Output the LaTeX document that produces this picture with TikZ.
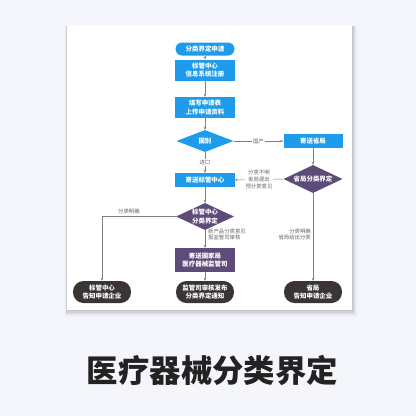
\documentclass[tikz,border=0pt]{standalone}
\usepackage{fontspec}
\newfontfamily\cjk{Noto Sans CJK SC}
\usetikzlibrary{shapes.geometric,arrows.meta}
\definecolor{bgc}{HTML}{F5F6FB}
\definecolor{blu}{HTML}{1E9BEB}
\definecolor{pur}{HTML}{5D4B7A}
\definecolor{drk}{HTML}{3A3434}
\definecolor{lnc}{HTML}{808080}
\definecolor{lbc}{HTML}{666666}
\definecolor{ttc}{HTML}{222222}
\begin{document}
\begin{tikzpicture}[x=1bp,y=-1bp,
  box/.style={draw=none,text=white,font=\cjk\bfseries\fontsize{6.5}{8.4}\selectfont,align=center,inner sep=0pt,minimum width=59bp},
  term/.style={box,rounded corners=6.5bp,minimum height=13bp},
  rbox/.style={box,minimum height=21bp},
  sbox/.style={box,minimum height=14bp},
  dia/.style={box,shape=diamond,aspect=2.1,minimum width=58bp,minimum height=27bp},
  endt/.style={box,fill=drk,rounded corners=10.5bp,minimum height=22bp,minimum width=58bp},
  arr/.style={draw=lnc,line width=0.5pt,-{Stealth[length=3pt,width=2.6pt]}},
  lbl/.style={text=lbc,font=\cjk\fontsize{5.4}{6.8}\selectfont,inner sep=1pt}]
\useasboundingbox (0,0) rectangle (416,416);
\fill[bgc] (0,0) rectangle (416,416);
% card shadow
\foreach \o/\op in {5/0.025,4/0.03,3/0.04,2/0.05,1/0.06}{
  \fill[black,opacity=\op] (67-\o*0.4,26) rectangle (352+\o,310+\o*1.3);
}
\fill[white] (67,26) rectangle (352,310);
% nodes
\node[term,fill=blu] (a) at (205,49) {分类界定申请};
\node[rbox,fill=blu] (b) at (205,70) {标管中心\\信息系统注册};
\node[rbox,fill=blu] (c) at (205,107.5) {填写申请表\\上传申请资料};
\node[dia,fill=blu,minimum width=57bp,minimum height=22bp] (d) at (205,141) {国别};
\node[sbox,fill=blu] (s) at (313,141) {寄送省局};
\node[dia,fill=pur,minimum width=59bp,minimum height=28bp] (t) at (313,179) {省局分类界定};
\node[sbox,fill=blu] (e) at (205,180) {寄送标管中心};
\node[dia,fill=pur] (f) at (205,216.5) {标管中心\\分类界定};
\node[box,fill=pur,minimum height=24bp] (g) at (205,260) {寄送国家局\\医疗器械监管司};
\node[endt] (r1) at (102,292) {标管中心\\告知申请企业};
\node[endt] (r2) at (205,292) {监管司审核发布\\分类界定通知};
\node[endt] (r3) at (313,292) {省局\\告知申请企业};
% connectors
\draw[arr] (a) -- (b);
\draw[arr] (b) -- (c);
\draw[arr] (c) -- (d);
\draw[arr] (d) -- node[lbl,fill=white,pos=0.5]{进口} (e);
\draw[arr] (d.east) -- node[lbl,fill=white]{国产} (s.west);
\draw[arr] (s) -- (t);
\draw[arr] (t.west) -- node[lbl,fill=white,align=center]{分类不明\\省局提出\\预分类意见} (e.east);
\draw[arr] (e) -- (f);
\draw[arr] (f) -- (g);
\draw[arr] (g) -- (r2);
\draw[arr] (t) -- (r3);
\draw[arr] (f.west) -| (r1);
\node[lbl,anchor=south] at (129,215.5) {分类明确};
\node[lbl,anchor=west,align=left] at (207,234.5) {新产品分类意见\\报监管司审核};
\node[lbl,anchor=east,align=right] at (312,234.5) {分类明确\\省局给出分类};
% title
\node[text=ttc,font=\cjk\bfseries\fontsize{31.5}{33}\selectfont,inner sep=0pt] (title) at (212.5,370) {医疗器械分类界定};
\end{tikzpicture}
\end{document}
